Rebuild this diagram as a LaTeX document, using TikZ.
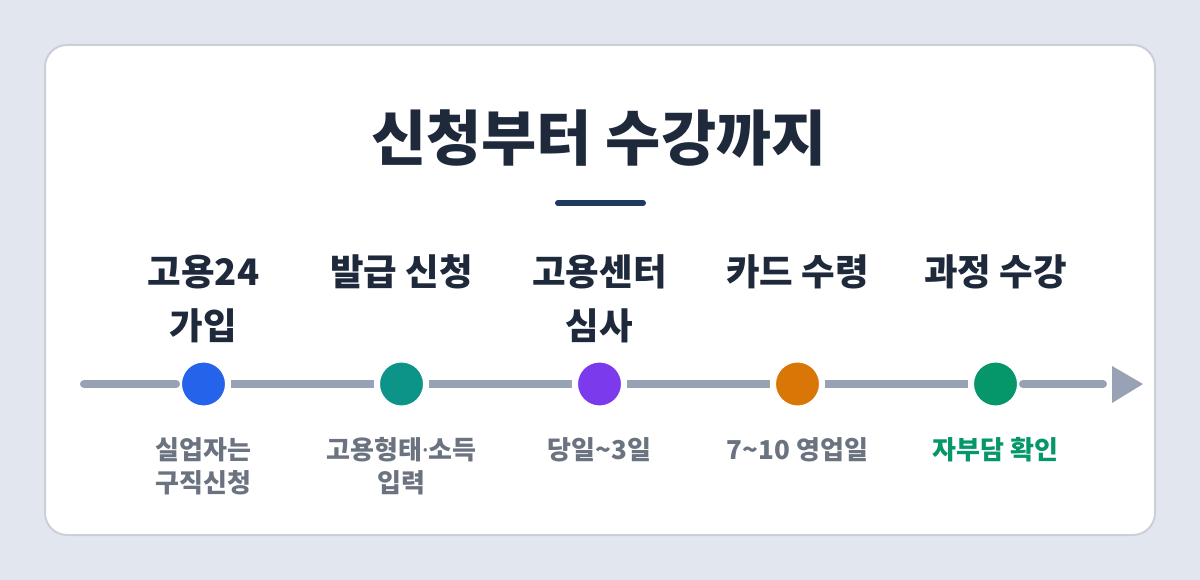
\documentclass[tikz,border=0pt]{standalone}
\usepackage{fontspec}
\setmainfont{Noto Sans CJK KR}
\newfontfamily\latinf{Noto Sans}
\definecolor{bgc}{HTML}{E2E6EE}
\definecolor{cardborder}{HTML}{CBD0D8}
\definecolor{titlec}{HTML}{1E293B}
\definecolor{barc}{HTML}{1E3A5F}
\definecolor{linec}{HTML}{98A2B5}
\definecolor{subc}{HTML}{6B7280}
\definecolor{c1}{HTML}{2563EB}
\definecolor{c2}{HTML}{0D9488}
\definecolor{c3}{HTML}{7C3AED}
\definecolor{c4}{HTML}{D97706}
\definecolor{c5}{HTML}{059669}
\tikzset{
  steplabel/.style={anchor=base, align=center, inner sep=0pt, text=titlec,
    font=\fontsize{36.5}{53.5}\selectfont\bfseries},
  sublabel/.style={anchor=base, align=center, inner sep=0pt, text=subc,
    font=\fontsize{26}{33}\selectfont\bfseries},
  dot/.style={circle, minimum size=49pt, inner sep=0pt, draw=white, line width=6pt},
  track/.style={draw=linec, line width=8pt},
}
\begin{document}
\begin{tikzpicture}[x=1pt,y=-1pt]
\useasboundingbox (0,0) rectangle (1200,580);
\fill[bgc] (0,0) rectangle (1200,580);
\draw[cardborder, line width=2pt, fill=white, rounded corners=22pt] (45,45) rectangle (1155,535);
\node[anchor=base, inner sep=0pt, text=titlec, font=\fontsize{60}{66}\selectfont\bfseries] (title) at (599,160.5) {신청부터 수강까지};
\coordinate (barL) at (558,203);
\coordinate (barR) at (643,203);
\draw[barc, line width=6pt, line cap=round] (barL) -- (barR);
% track
\coordinate (start) at (84,384);
\coordinate (end) at (1103,384);
\node[dot, fill=c1] (d1) at (203.5,384) {};
\node[dot, fill=c2] (d2) at (401.5,384) {};
\node[dot, fill=c3] (d3) at (599.5,384) {};
\node[dot, fill=c4] (d4) at (797.5,384) {};
\node[dot, fill=c5] (d5) at (995.5,384) {};
\draw[track, line cap=round] (start) -- (d1);
\draw[track] (d1) -- (d2);
\draw[track] (d2) -- (d3);
\draw[track] (d3) -- (d4);
\draw[track] (d4) -- (d5);
\draw[track, line cap=round] (d5) -- (end);
\coordinate (tip) at (1143,384);
\fill[linec] (1112,366) -- (tip) -- (1112,403) -- cycle;
% labels (base anchor = baseline of the last line)
\node[steplabel] (l1) at (203.5,339) {고용24\\가입};
\node[steplabel] (l2) at (401.5,285.5) {발급 신청};
\node[steplabel] (l3) at (599.5,339) {고용센터\\심사};
\node[steplabel] (l4) at (797.5,285.5) {카드 수령};
\node[steplabel] (l5) at (995.5,285.5) {과정 수강};
\node[sublabel] (s1) at (203.5,492.5) {실업자는\\구직신청};
\node[sublabel] (s2) at (401.5,492.5) {고용형태{\latinf\bfseries ·}소득\\입력};
\node[sublabel] (s3) at (599.5,459.5) {당일\textasciitilde 3일};
\node[sublabel] (s4) at (797.5,459.5) {7\textasciitilde 10 영업일};
\node[sublabel, text=c5] (s5) at (995.5,459.5) {자부담 확인};
\end{tikzpicture}
\end{document}
